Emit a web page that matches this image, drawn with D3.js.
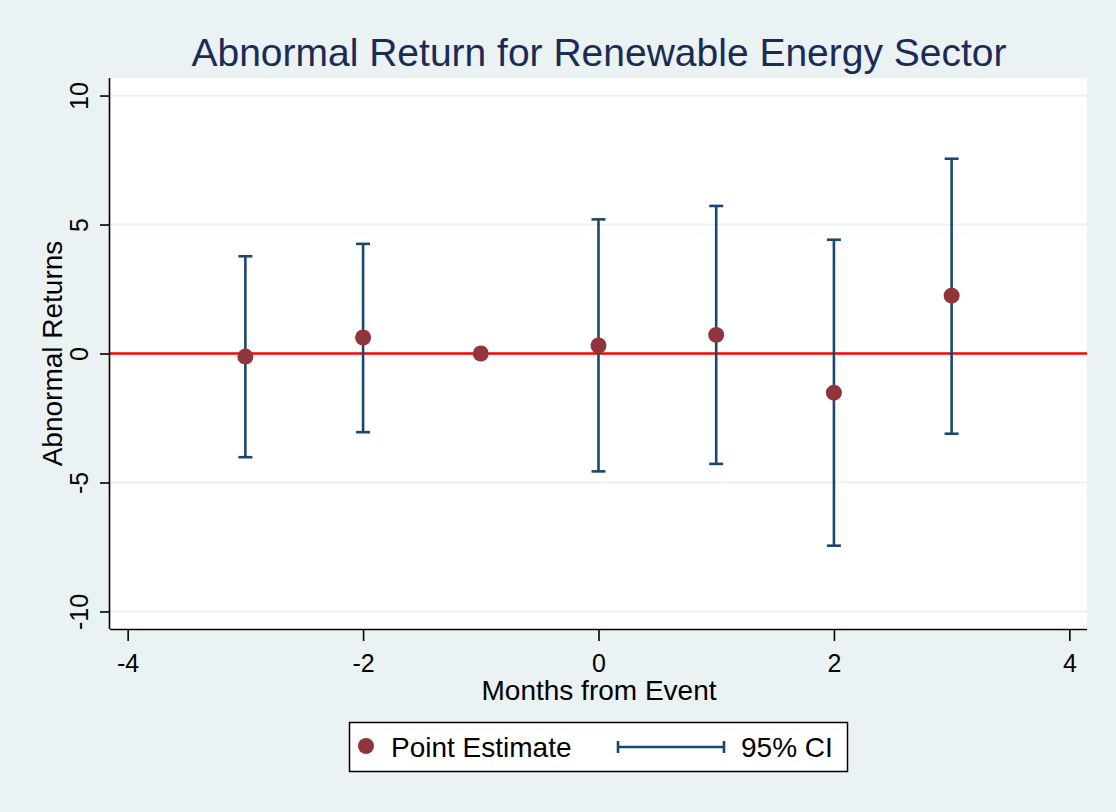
<!DOCTYPE html>
<html>
<head>
<meta charset="utf-8">
<script src="https://cdn.jsdelivr.net/npm/d3@7"></script>
<style>
  html, body { margin: 0; padding: 0; background: #EAF2F3; }
  svg { display: block; font-family: "Liberation Sans", Arial, sans-serif; }
</style>
</head>
<body>
<svg id="chart" width="1116" height="812"></svg>
<script>
const months = [-3, -2, -1, 0, 1, 2, 3];
const estimates = [-0.12, 0.62, 0.0, 0.31, 0.72, -1.52, 2.24];
const ciLow = [-4.02, -3.05, null, -4.57, -4.28, -7.45, -3.11];
const ciHigh = [3.77, 4.25, null, 5.20, 5.72, 4.41, 7.55];
const xTicks = [-4, -2, 0, 2, 4];
const yTicks = [-10, -5, 0, 5, 10];
const titleText = "Abnormal Return for Renewable Energy Sector";
const xTitle = "Months from Event";
const yTitle = "Abnormal Returns";
const legendLabels = ["Point Estimate", "95% CI"];

const svg = d3.select("#chart");
const W = 1116, H = 812;
const plot = { left: 110, right: 1087, top: 78, bottom: 629 };

const x = d3.scaleLinear().domain([-4.15, 4.15]).range([plot.left, plot.right]);
const y = d3.scaleLinear().domain([-10.68, 10.68]).range([plot.bottom, plot.top]);

const navy = "#1A476F", maroon = "#90353B", bg = "#EAF2F3";
const fmt = d => String(d);

svg.append("rect").attr("width", W).attr("height", H).attr("fill", bg);
svg.append("rect")
  .attr("x", plot.left).attr("y", plot.top)
  .attr("width", plot.right - plot.left).attr("height", plot.bottom - plot.top)
  .attr("fill", "#ffffff");

// gridlines
svg.append("g").selectAll("line").data(yTicks.filter(d => d !== 0)).join("line")
  .attr("x1", plot.left).attr("x2", plot.right)
  .attr("y1", d => y(d)).attr("y2", d => y(d))
  .attr("stroke", bg).attr("stroke-width", 2);

// reference line at 0
svg.append("line")
  .attr("x1", plot.left).attr("x2", plot.right)
  .attr("y1", y(0)).attr("y2", y(0))
  .attr("stroke", "#FF0000").attr("stroke-width", 2.5);

// CIs
const rows = months.map((m, i) => ({ m, est: estimates[i], lo: ciLow[i], hi: ciHigh[i] }));
const ci = svg.append("g").attr("stroke", navy).attr("stroke-width", 2.6).attr("fill", "none");
rows.filter(r => r.lo !== null).forEach(r => {
  ci.append("line").attr("x1", x(r.m)).attr("x2", x(r.m)).attr("y1", y(r.lo)).attr("y2", y(r.hi));
  ci.append("line").attr("x1", x(r.m) - 7).attr("x2", x(r.m) + 7).attr("y1", y(r.lo)).attr("y2", y(r.lo));
  ci.append("line").attr("x1", x(r.m) - 7).attr("x2", x(r.m) + 7).attr("y1", y(r.hi)).attr("y2", y(r.hi));
});

// points
svg.append("g").selectAll("circle").data(rows).join("circle")
  .attr("cx", d => x(d.m)).attr("cy", d => y(d.est)).attr("r", 8)
  .attr("fill", maroon);

// axes
const xAxis = svg.append("g").attr("transform", `translate(0,${plot.bottom})`)
  .call(d3.axisBottom(x).tickValues(xTicks).tickSize(12).tickSizeOuter(0).tickFormat(fmt));
xAxis.select(".domain").attr("stroke", "#000").attr("stroke-width", 1.6)
  .attr("d", `M${plot.left},0.5H${plot.right}`);
xAxis.selectAll(".tick line").attr("stroke", "#000").attr("stroke-width", 1.6);
xAxis.selectAll(".tick text").attr("font-size", 25).attr("fill", "#000")
  .attr("font-family", "Liberation Sans, Arial, sans-serif")
  .attr("dy", null).attr("y", 43);

const yAxis = svg.append("g").attr("transform", `translate(${plot.left},0)`)
  .call(d3.axisLeft(y).tickValues(yTicks).tickSize(10).tickSizeOuter(0).tickFormat(fmt));
yAxis.select(".domain").attr("stroke", "#000").attr("stroke-width", 1.6)
  .attr("d", `M-0.5,${plot.top}V${plot.bottom}`);
yAxis.selectAll(".tick line").attr("stroke", "#000").attr("stroke-width", 1.6);
yAxis.selectAll(".tick text")
  .attr("font-size", 25).attr("fill", "#000")
  .attr("font-family", "Liberation Sans, Arial, sans-serif")
  .attr("x", null).attr("dy", null)
  .attr("text-anchor", "middle")
  .attr("transform", "translate(-22,0) rotate(-90)");

// title
svg.append("text").attr("x", 599).attr("y", 66).attr("text-anchor", "middle")
  .attr("font-size", 39).attr("fill", "#1C2B55").text(titleText);

// axis titles
svg.append("text").attr("x", 599).attr("y", 700).attr("text-anchor", "middle")
  .attr("font-size", 28).attr("fill", "#000").text(xTitle);
svg.append("text").attr("transform", `translate(62,${(plot.top + plot.bottom) / 2}) rotate(-90)`)
  .attr("text-anchor", "middle").attr("font-size", 28).attr("fill", "#000").text(yTitle);

// legend
const lg = svg.append("g");
lg.append("rect").attr("x", 349.5).attr("y", 722.5).attr("width", 498).attr("height", 49)
  .attr("fill", "#fff").attr("stroke", "#000").attr("stroke-width", 1.5);
lg.append("circle").attr("cx", 366).attr("cy", 746).attr("r", 8).attr("fill", maroon);
lg.append("text").attr("x", 391).attr("y", 757).attr("font-size", 28).attr("fill", "#000").text(legendLabels[0]);
const lgci = lg.append("g").attr("stroke", navy).attr("stroke-width", 2.6);
lgci.append("line").attr("x1", 618).attr("x2", 724).attr("y1", 747).attr("y2", 747);
lgci.append("line").attr("x1", 618).attr("x2", 618).attr("y1", 741).attr("y2", 753);
lgci.append("line").attr("x1", 724).attr("x2", 724).attr("y1", 741).attr("y2", 753);
lg.append("text").attr("x", 741).attr("y", 757).attr("font-size", 28).attr("fill", "#000").text(legendLabels[1]);
</script>
</body>
</html>
